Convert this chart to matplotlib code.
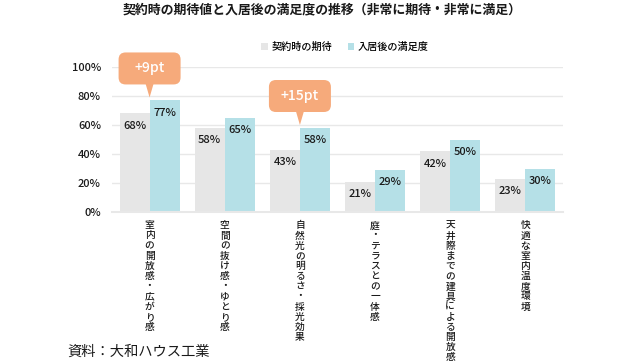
import numpy as np
import matplotlib.pyplot as plt
from matplotlib.patches import FancyBboxPatch, Polygon

plt.rcParams['font.family'] = ['Noto Sans CJK JP', 'DejaVu Sans']
plt.rcParams['font.weight'] = 'medium'

categories = ["室内の開放感・広がり感", "空間の抜け感・ゆとり感", "自然光の明るさ・採光効果",
              "庭・テラスとの一体感", "天井際までの建具による開放感", "快適な室内温度環境"]
expect = [68, 58, 43, 21, 42, 23]
satisfied = [77, 65, 58, 29, 50, 30]
series_names = ["契約時の期待", "入居後の満足度"]
callout_idx = [0, 2]
yticks = [0, 20, 40, 60, 80, 100]

gray = "#e6e6e6"
blue = "#b5e0e7"
orange = "#f6aa7b"
ink = "#1a1a1a"

fig = plt.figure(figsize=(6.4, 3.64), dpi=100)
ax = fig.add_axes([112 / 640, 152 / 364, 451 / 640, 145 / 364])

x = np.arange(len(categories))
w = 0.4
b1 = ax.bar(x - w / 2, expect, w, color=gray, label=series_names[0], zorder=2)
b2 = ax.bar(x + w / 2, satisfied, w, color=blue, label=series_names[1], zorder=2)

for bars, vals in ((b1, expect), (b2, satisfied)):
    for bar, v in zip(bars, vals):
        ax.annotate(f"{v}%", (bar.get_x() + bar.get_width() / 2, v),
                    xytext=(0, -9), textcoords="offset points",
                    ha="center", va="center", fontsize=8, color=ink, zorder=3)

ax.set_xlim(-0.5, len(categories) - 0.5)
ax.set_ylim(0, 100)
ax.set_yticks(yticks)
ax.set_yticklabels([f"{t}%" for t in yticks], fontsize=8, color=ink)
ax.tick_params(axis="y", length=0, pad=8)
ax.grid(axis="y", color="#e8e8e8", linewidth=1, zorder=0)
for s in ["top", "right", "left"]:
    ax.spines[s].set_visible(False)
ax.spines["bottom"].set_color("#e8e8e8")
ax.spines["bottom"].set_linewidth(1.5)

ax.set_xticks(x)
ax.set_xticklabels(["\n".join(c) for c in categories], fontsize=7.0,
                   linespacing=1.02, va="top", color=ink)
ax.tick_params(axis="x", length=0, pad=6)

# callout boxes with the difference in points
p0 = ax.transData.transform((0, 0))
p1 = ax.transData.transform((1, 1))
px_x, px_y = p1[0] - p0[0], p1[1] - p0[1]
bw = 62 / px_x
for i in callout_idx:
    diff = satisfied[i] - expect[i]
    tip = satisfied[i] + 2
    bot = tip + 13 / px_y
    top = bot + 32 / px_y
    box = FancyBboxPatch((i - bw / 2, bot), bw, top - bot,
                         boxstyle=f"round,pad=0,rounding_size={7 / px_x}",
                         mutation_aspect=px_x / px_y,
                         fc=orange, ec="none", clip_on=False, zorder=4)
    ax.add_patch(box)
    tail = Polygon([(i - 4 / px_x, bot + 0.5), (i + 4 / px_x, bot + 0.5), (i, tip)],
                   closed=True, fc=orange, ec="none", clip_on=False, zorder=4)
    ax.add_patch(tail)
    ax.text(i, (bot + top) / 2, f"+{diff}pt", ha="center", va="center",
            fontsize=10, color="white", zorder=5)

fig.text(322 / 640, 1 - 9 / 364, "契約時の期待値と入居後の満足度の推移（非常に期待・非常に満足）",
         ha="center", va="center", fontsize=9.3, fontweight="bold", color=ink)
fig.legend(handles=[b1, b2], loc="center", bbox_to_anchor=(345 / 640, 1 - 47 / 364),
           ncol=2, frameon=False, fontsize=7.3, handlelength=0.6, handleheight=0.6,
           handletextpad=0.4, columnspacing=1.5)
fig.text(67 / 640, 1 - 352 / 364, "資料：大和ハウス工業", ha="left", va="center",
         fontsize=10.3, fontweight="normal", color=ink)

fig.savefig("out.png", dpi=100)
